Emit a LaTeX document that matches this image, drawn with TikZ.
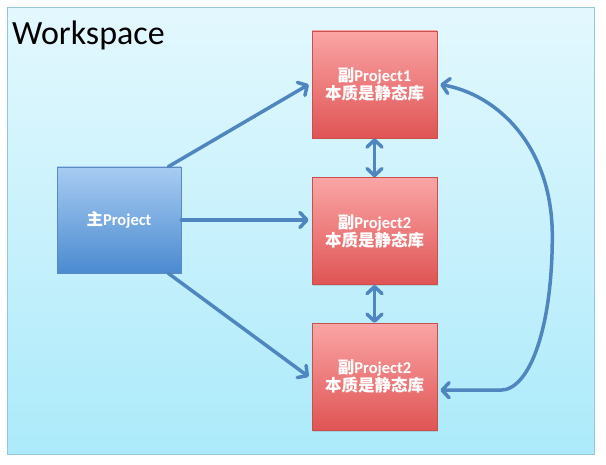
\documentclass[tikz,border=0pt]{standalone}
\usepackage{fontspec}
\setmainfont{Carlito}
\newfontfamily\cjk{Noto Sans CJK SC}
\usetikzlibrary{arrows.meta,positioning,shadows}
\definecolor{wsTop}{HTML}{E3F8FE}
\definecolor{wsBot}{HTML}{ACEAFA}
\definecolor{wsLine}{HTML}{96C8D8}
\definecolor{subTop}{HTML}{FAA5A5}
\definecolor{subBot}{HTML}{E05454}
\definecolor{subLine}{HTML}{C94F4F}
\definecolor{mainTop}{HTML}{A8CCF2}
\definecolor{mainBot}{HTML}{4B8AD0}
\definecolor{mainLine}{HTML}{5A8AC4}
\definecolor{linkBlue}{HTML}{4F86BF}
\tikzset{
  proj/.style={draw, line width=0.6pt, text=white, align=center,
    font=\fontsize{16.5}{18}\selectfont\bfseries,
    drop shadow={shadow xshift=1pt,shadow yshift=-1.5pt,opacity=.25}},
  mainproj/.style={proj, draw=mainLine, top color=mainTop, bottom color=mainBot,
    minimum width=124pt, minimum height=106pt},
  subproj/.style={proj, draw=subLine, top color=subTop, bottom color=subBot,
    minimum width=125pt, minimum height=107pt},
  link/.style={draw=linkBlue, line width=3.5pt, line cap=round,
    -{Straight Barb[round,length=7pt,width=15pt]}},
  biglink/.style={link,
    {Straight Barb[round,length=7pt,width=15pt]}-{Straight Barb[round,length=7pt,width=15pt]}}
}

\begin{document}
\begin{tikzpicture}[x=1pt,y=1pt]
\useasboundingbox (0,0) rectangle (606,465);
% workspace frame
\draw[draw=wsLine, line width=1pt, top color=wsTop, bottom color=wsBot]
  (7,10) rectangle (594,457);
\node[anchor=base west, inner sep=0pt, font=\fontsize{34}{38}\selectfont]
  (title) at (12,420) {Workspace};
% projects
\node[mainproj] (main) at (119,245) {{\cjk 主}Project};
\node[subproj] (p1) at (374.5,380.5) {{\cjk 副}Project1\\{\cjk 本质是静态库}};
\node[subproj, below=39pt of p1] (p2) {{\cjk 副}Project2\\{\cjk 本质是静态库}};
\node[subproj, below=38pt of p2] (p3) {{\cjk 副}Project2\\{\cjk 本质是静态库}};
% links
\coordinate (m2) at (main.east -| p2.west);
\draw[link] ([xshift=-13pt]main.north east) -- ([xshift=-3pt]p1.west);
\draw[link] (main.east) -- ([xshift=-3pt]m2);
\draw[link] ([xshift=-13pt]main.south east) -- ([xshift=-3pt]p3.west);
\draw[biglink] (p1.south) -- (p2.north);
\draw[biglink] (p2.south) -- (p3.north);
% back link
\coordinate (bendR) at ([xshift=115pt,yshift=-5pt]p2.east);
\coordinate (bendB) at ([xshift=63pt,yshift=-13.5pt]p3.east);
\draw[biglink] ([xshift=3pt]p1.east) .. controls +(57,-10) and +(0,90) .. (bendR)
  .. controls +(0,-90) and +(30,0) .. (bendB) -- ([xshift=3pt,yshift=-13.5pt]p3.east);
\end{tikzpicture}
\end{document}
